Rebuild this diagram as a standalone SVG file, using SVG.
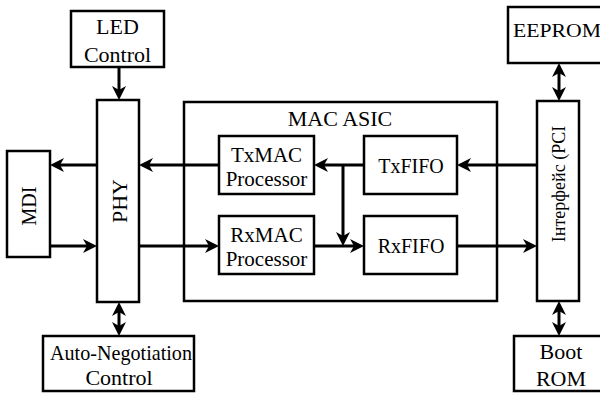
<svg xmlns="http://www.w3.org/2000/svg" width="600" height="395" viewBox="0 0 600 395">
<style>
.box{fill:#fff;stroke:#000;stroke-width:2.5}
.t{font-family:"Liberation Serif","Times New Roman",serif;font-size:22px;fill:#000;text-anchor:middle}
.s{font-size:20px}
.m{font-size:21px}
.c{fill:none;stroke:#000;stroke-width:3}
</style>
<defs>
<marker id="ah" viewBox="0 0 14 14" refX="10" refY="7" markerWidth="14" markerHeight="14" markerUnits="userSpaceOnUse" orient="auto-start-reverse">
<path d="M0,0 L14,7 L0,14 L4,7 Z" fill="#000"/>
</marker>
</defs>
<rect width="600" height="395" fill="#fff"/>
<g id="mac-asic">
<rect class="box" x="184" y="102" width="313" height="199"/>
<text class="t" x="340" y="126">MAC ASIC</text>
</g>
<g id="connectors">
<line class="c" x1="119" y1="67" x2="119" y2="96" marker-end="url(#ah)"/>
<line class="c" x1="119" y1="306" x2="119" y2="332" marker-start="url(#ah)" marker-end="url(#ah)"/>
<line class="c" x1="97" y1="165" x2="54" y2="165" marker-end="url(#ah)"/>
<line class="c" x1="50" y1="246" x2="93" y2="246" marker-end="url(#ah)"/>
<line class="c" x1="219" y1="165" x2="143" y2="165" marker-end="url(#ah)"/>
<line class="c" x1="139" y1="246" x2="215" y2="246" marker-end="url(#ah)"/>
<line class="c" x1="364" y1="165" x2="318" y2="165" marker-end="url(#ah)"/>
<line class="c" x1="343" y1="165" x2="343" y2="242" marker-end="url(#ah)"/>
<line class="c" x1="314" y1="246" x2="360" y2="246" marker-end="url(#ah)"/>
<line class="c" x1="537" y1="165" x2="461" y2="165" marker-end="url(#ah)"/>
<line class="c" x1="457" y1="246" x2="533" y2="246" marker-end="url(#ah)"/>
<line class="c" x1="559" y1="67" x2="559" y2="97" marker-start="url(#ah)" marker-end="url(#ah)"/>
<line class="c" x1="559" y1="305" x2="559" y2="332" marker-start="url(#ah)" marker-end="url(#ah)"/>
</g>
<g id="led-control">
<rect class="box" x="71" y="11" width="93" height="56"/>
<text class="t" x="117.5" y="34">LED</text>
<text class="t" x="117.5" y="62">Control</text>
</g>
<g id="phy">
<rect class="box" x="97" y="100" width="42" height="202"/>
<text class="t" transform="translate(127,201) rotate(-90)">PHY</text>
</g>
<g id="mdi">
<rect class="box" x="7" y="151" width="43" height="106"/>
<text class="t s" transform="translate(36,206) rotate(-90)">MDI</text>
</g>
<g id="auto-negotiation">
<rect class="box" x="43" y="336" width="151" height="55"/>
<text class="t" x="121" y="360" textLength="142" lengthAdjust="spacingAndGlyphs">Auto-Negotiation</text>
<text class="t" x="119" y="385">Control</text>
</g>
<g id="txmac">
<rect class="box" x="219" y="136" width="95" height="58"/>
<text class="t m" x="266.5" y="162">TxMAC</text>
<text class="t m" x="266.5" y="186">Processor</text>
</g>
<g id="rxmac">
<rect class="box" x="219" y="216" width="95" height="58"/>
<text class="t m" x="266.5" y="242">RxMAC</text>
<text class="t m" x="266.5" y="266">Processor</text>
</g>
<g id="txfifo">
<rect class="box" x="364" y="136" width="93" height="58"/>
<text class="t s" x="411" y="173">TxFIFO</text>
</g>
<g id="rxfifo">
<rect class="box" x="364" y="216" width="93" height="58"/>
<text class="t s" x="411" y="253">RxFIFO</text>
</g>
<g id="pci">
<rect class="box" x="537" y="101" width="42" height="200"/>
<text class="t" style="font-size:18px" transform="translate(565,184) rotate(-90)">Інтерфейс (PCI</text>
</g>
<g id="eeprom">
<rect class="box" x="508" y="7" width="94" height="56"/>
<text class="t" style="font-size:18px;text-anchor:start" x="513" y="37" textLength="88" lengthAdjust="spacingAndGlyphs">EEPROM</text>
</g>
<g id="boot-rom">
<rect class="box" x="514" y="336" width="90" height="55"/>
<text class="t" x="561" y="359">Boot</text>
<text class="t" x="561" y="386">ROM</text>
</g>
</svg>
